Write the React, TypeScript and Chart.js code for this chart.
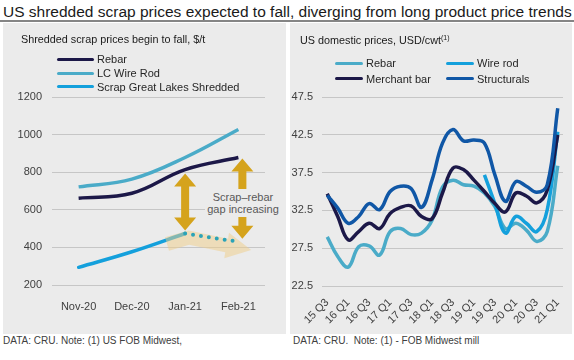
import React, { useEffect, useRef } from "react";
import { Chart, registerables } from "chart.js";

Chart.register(...registerables);

const FONT = "'Liberation Sans', Arial, Helvetica, sans-serif";

// ---------- Left chart data ----------
const leftCategories = ["Nov-20", "Dec-20", "Jan-21", "Feb-21"];
const leftRebar = [662, 688, 814, 878];
const leftLcWireRod = [722, 763, 878, 1027];
const leftScrap = [294, 377, 474, null];
const leftScrapForecast = [null, null, 474, 430];
const leftYMin = 200;
const leftYMax = 1200;
const leftYStep = 200;

// ---------- Right chart data ----------
const quarters = [
  "15 Q3", "15 Q4", "16 Q1", "16 Q2", "16 Q3", "16 Q4", "17 Q1", "17 Q2",
  "17 Q3", "17 Q4", "18 Q1", "18 Q2", "18 Q3", "18 Q4", "19 Q1", "19 Q2",
  "19 Q3", "19 Q4", "20 Q1", "20 Q2", "20 Q3", "20 Q4", "21 Q1",
];
const rightRebar = [29.0, 26.4, 25.0, 27.7, 27.8, 26.6, 29.7, 30.1, 29.3, 29.5, 31.2, 35.6, 36.5, 35.9, 35.7, 34.8, 33.0, 30.1, 30.8, 29.9, 28.4, 29.7, 38.4];
const rightWireRod = [null, null, null, null, null, null, null, null, null, null, null, null, null, null, null, 37.2, 33.4, 29.5, 31.7, 30.8, 29.7, 32.6, 42.9];
const rightMerchantBar = [34.7, 31.7, 28.6, 29.7, 30.8, 30.1, 32.1, 32.9, 33.1, 31.7, 31.4, 34.8, 38.1, 37.9, 36.5, 35.0, 33.4, 32.3, 34.8, 34.4, 33.5, 35.2, 42.5];
const rightStructurals = [34.5, 32.8, 30.8, 31.7, 33.4, 32.6, 35.0, 35.7, 35.4, 32.9, 36.5, 41.4, 43.2, 41.7, 41.8, 41.4, 37.2, 33.7, 36.3, 35.7, 34.9, 35.9, 46.0];
const rightYMin = 22.5;
const rightYMax = 47.5;
const rightYStep = 5;

const C_NAVY = "#1c1848";
const C_LIGHT = "#4aabc8";
const C_BRIGHT = "#14a0dc";
const C_STRUCT = "#1057a6";
const C_DOTS = "#2aa3b8";
const C_GOLD = "#d5a31c";
const GRID = "#c6c6c6";
const TICK = "#404040";
const PANEL = "#ebebeb";

function drawDoubleArrow(ctx: CanvasRenderingContext2D, x: number, y1: number, y2: number) {
  const sh = 4, hh = 11, hl = 13;
  ctx.beginPath();
  ctx.moveTo(x, y1);
  ctx.lineTo(x + hh, y1 + hl);
  ctx.lineTo(x + sh, y1 + hl);
  ctx.lineTo(x + sh, y2 - hl);
  ctx.lineTo(x + hh, y2 - hl);
  ctx.lineTo(x, y2);
  ctx.lineTo(x - hh, y2 - hl);
  ctx.lineTo(x - sh, y2 - hl);
  ctx.lineTo(x - sh, y1 + hl);
  ctx.lineTo(x - hh, y1 + hl);
  ctx.closePath();
  ctx.fill();
}

const beigeArrowPlugin = {
  id: "beigeArrow",
  afterDatasetDraw(chart: any, args: any) {
    const ds = chart.data.datasets[args.index];
    if (ds.label !== "Scrap Great Lakes Shredded") return;
    const xs = chart.scales.x, ys = chart.scales.y;
    const P = (i: number, v: number) => ({ x: xs.getPixelForValue(i), y: ys.getPixelForValue(v) });
    const S = P(1.66, 418), K = P(2.07, 452), B = P(2.78, 410), T = P(3.24, 386);
    const w = 7, hw = 13;
    const norm = (a: any, b: any) => {
      const dx = b.x - a.x, dy = b.y - a.y, l = Math.hypot(dx, dy);
      return { x: -dy / l, y: dx / l };
    };
    const n1 = norm(S, K), n2 = norm(K, B), n3 = norm(B, T);
    let m = { x: n1.x + n2.x, y: n1.y + n2.y };
    const ml = Math.hypot(m.x, m.y);
    m = { x: m.x / ml, y: m.y / ml };
    const cosHalf = m.x * n1.x + m.y * n1.y;
    const mw = w / cosHalf;
    const ctx = chart.ctx;
    ctx.save();
    ctx.fillStyle = "rgba(240, 205, 135, 0.5)";
    ctx.beginPath();
    ctx.moveTo(S.x + n1.x * w, S.y + n1.y * w);
    ctx.lineTo(K.x + m.x * mw, K.y + m.y * mw);
    ctx.lineTo(B.x + n2.x * w, B.y + n2.y * w);
    ctx.lineTo(B.x + n3.x * hw, B.y + n3.y * hw);
    ctx.lineTo(T.x, T.y);
    ctx.lineTo(B.x - n3.x * hw, B.y - n3.y * hw);
    ctx.lineTo(B.x - n2.x * w, B.y - n2.y * w);
    ctx.lineTo(K.x - m.x * mw, K.y - m.y * mw);
    ctx.lineTo(S.x - n1.x * w, S.y - n1.y * w);
    ctx.closePath();
    ctx.fill();
    ctx.restore();
  },
  afterDatasetsDraw(chart: any) {
    const xs = chart.scales.x, ys = chart.scales.y;
    const ctx = chart.ctx;
    ctx.save();
    ctx.fillStyle = C_GOLD;
    const xJan = xs.getPixelForValue(2);
    drawDoubleArrow(ctx, xJan, ys.getPixelForValue(leftRebar[2]) + 4, ys.getPixelForValue(leftScrap[2] as number) - 3);
    const xFeb = xs.getPixelForValue(3) + 4;
    drawDoubleArrow(ctx, xFeb, ys.getPixelForValue(leftRebar[3]) + 1, ys.getPixelForValue(leftScrapForecast[3] as number) - 3);
    ctx.restore();
  },
};

function LegendItem({ color, label, lineW, x, y }: { color: string; label: string; lineW: number; x: number; y: number }) {
  return (
    <div style={{ position: "absolute", left: x, top: y - 7, height: 14, display: "flex", alignItems: "center", whiteSpace: "nowrap" }}>
      <span style={{ display: "inline-block", width: lineW, height: 3, borderRadius: 2, background: color, marginRight: 3 }} />
      <span style={{ fontSize: 11, lineHeight: "14px", color: "#262626" }}>{label}</span>
    </div>
  );
}

export default function App() {
  const leftRef = useRef<HTMLCanvasElement>(null);
  const rightRef = useRef<HTMLCanvasElement>(null);

  useEffect(() => {
    document.body.style.margin = "0";
    const tickFont = { family: FONT, size: 11 };

    const left = new Chart(leftRef.current as HTMLCanvasElement, {
      type: "line",
      data: {
        labels: leftCategories,
        datasets: [
          { label: "Scrap forecast", data: leftScrapForecast, borderColor: C_DOTS, borderWidth: 4, borderDash: [0, 8], borderCapStyle: "round", pointRadius: 0, tension: 0, order: 0 },
          { label: "Rebar", data: leftRebar, borderColor: C_NAVY, borderWidth: 3.5, pointRadius: 0, tension: 0.4, order: 1 },
          { label: "LC Wire Rod", data: leftLcWireRod, borderColor: C_LIGHT, borderWidth: 3.5, pointRadius: 0, tension: 0.4, order: 2 },
          { label: "Scrap Great Lakes Shredded", data: leftScrap, borderColor: C_BRIGHT, borderWidth: 3.5, pointRadius: 0, tension: 0.4, order: 3, borderCapStyle: "round" },
        ],
      } as any,
      options: {
        responsive: false,
        animation: false,
        layout: { padding: { top: 74, right: 21, left: 0, bottom: 0 } },
        plugins: { legend: { display: false }, tooltip: { enabled: false }, title: { display: false } },
        scales: {
          x: {
            offset: true,
            grid: { display: false },
            border: { display: false },
            ticks: { font: tickFont, color: TICK, padding: 7, maxRotation: 0 },
            afterFit: (s: any) => { s.height = 49; },
          },
          y: {
            min: leftYMin,
            max: leftYMax,
            grid: { color: GRID, drawTicks: false, lineWidth: 1 },
            border: { display: false },
            ticks: { stepSize: leftYStep, font: tickFont, color: TICK, padding: 10, callback: (v: any) => String(v) },
            afterFit: (s: any) => { s.width = 49; },
          },
        },
      } as any,
      plugins: [beigeArrowPlugin],
    });

    const right = new Chart(rightRef.current as HTMLCanvasElement, {
      type: "line",
      data: {
        labels: quarters,
        datasets: [
          { label: "Structurals", data: rightStructurals, borderColor: C_STRUCT, borderWidth: 3.5, pointRadius: 0, tension: 0.4 },
          { label: "Merchant bar", data: rightMerchantBar, borderColor: C_NAVY, borderWidth: 3.5, pointRadius: 0, tension: 0.4 },
          { label: "Wire rod", data: rightWireRod, borderColor: C_BRIGHT, borderWidth: 3.5, pointRadius: 0, tension: 0.4 },
          { label: "Rebar", data: rightRebar, borderColor: C_LIGHT, borderWidth: 3.5, pointRadius: 0, tension: 0.4 },
        ],
      } as any,
      options: {
        responsive: false,
        animation: false,
        layout: { padding: { top: 74, right: 9, left: 0, bottom: 0 } },
        plugins: { legend: { display: false }, tooltip: { enabled: false }, title: { display: false } },
        scales: {
          x: {
            offset: true,
            grid: { display: false },
            border: { display: false },
            ticks: {
              font: tickFont,
              color: TICK,
              padding: 2,
              autoSkip: false,
              maxRotation: 45,
              minRotation: 45,
              callback: (_v: any, i: number) => (i % 2 === 0 ? quarters[i] : ""),
            },
            afterFit: (s: any) => { s.height = 48; },
          },
          y: {
            min: rightYMin,
            max: rightYMax,
            grid: { color: GRID, drawTicks: false, lineWidth: 1 },
            border: { display: false },
            ticks: { stepSize: rightYStep, font: tickFont, color: TICK, padding: 9, callback: (v: any) => Number(v).toFixed(1) },
            afterFit: (s: any) => { s.width = 32; },
          },
        },
      } as any,
    });

    return () => {
      left.destroy();
      right.destroy();
    };
  }, []);

  return (
    <div style={{ position: "absolute", left: 0, top: 0, width: 574, height: 360, background: "#ffffff", fontFamily: FONT, overflow: "hidden" }}>
      <div style={{ position: "absolute", left: 3, top: 2, height: 20, lineHeight: "20px", fontSize: 15.5, color: "#1a1a1a", whiteSpace: "nowrap" }}>
        US shredded scrap prices expected to fall, diverging from long product price trends
      </div>
      <div style={{ position: "absolute", left: 0, top: 20, width: 574, height: 2, background: "#858585" }} />

      {/* Left panel */}
      <div style={{ position: "absolute", left: 3, top: 23, width: 283, height: 311, background: PANEL }} />
      <canvas ref={leftRef} width={283} height={311} style={{ position: "absolute", left: 3, top: 23, width: 283, height: 311 }} />
      <div style={{ position: "absolute", left: 21, top: 32, height: 14, lineHeight: "14px", fontSize: 10.8, color: "#1a1a1a", whiteSpace: "nowrap" }}>
        Shredded scrap prices begin to fall, $/t
      </div>
      <LegendItem color={C_NAVY} label="Rebar" lineW={37} x={57} y={59.3} />
      <LegendItem color={C_LIGHT} label="LC Wire Rod" lineW={37} x={57} y={73} />
      <LegendItem color={C_BRIGHT} label="Scrap Great Lakes Shredded" lineW={37} x={57} y={86.7} />
      <div style={{ position: "absolute", left: 205, top: 189, width: 76, padding: "2px 0", lineHeight: "12px", fontSize: 11, color: "#595959", textAlign: "center", background: PANEL }}>
        Scrap–rebar<br />gap increasing
      </div>

      {/* Right panel */}
      <div style={{ position: "absolute", left: 290, top: 23, width: 282, height: 311, background: PANEL }} />
      <canvas ref={rightRef} width={282} height={311} style={{ position: "absolute", left: 290, top: 23, width: 282, height: 311 }} />
      <div style={{ position: "absolute", left: 300, top: 33, height: 14, lineHeight: "14px", fontSize: 10.8, color: "#1a1a1a", whiteSpace: "nowrap" }}>
        US domestic prices, USD/cwt<span style={{ fontSize: 7, position: "relative", top: -4 }}>(1)</span>
      </div>
      <LegendItem color={C_LIGHT} label="Rebar" lineW={28} x={335} y={63.3} />
      <LegendItem color={C_BRIGHT} label="Wire rod" lineW={28} x={446} y={63.3} />
      <LegendItem color={C_NAVY} label="Merchant bar" lineW={28} x={335} y={78.7} />
      <LegendItem color={C_STRUCT} label="Structurals" lineW={28} x={446} y={78.7} />

      {/* Footers */}
      <div style={{ position: "absolute", left: 3, top: 334, height: 14, lineHeight: "14px", fontSize: 10, color: "#404040", whiteSpace: "nowrap" }}>
        DATA: CRU. Note: (1) US FOB Midwest,
      </div>
      <div style={{ position: "absolute", left: 293, top: 334, height: 14, lineHeight: "14px", fontSize: 10, color: "#404040", whiteSpace: "pre" }}>
        {"DATA: CRU.  Note: (1) - FOB Midwest mill"}
      </div>
    </div>
  );
}
